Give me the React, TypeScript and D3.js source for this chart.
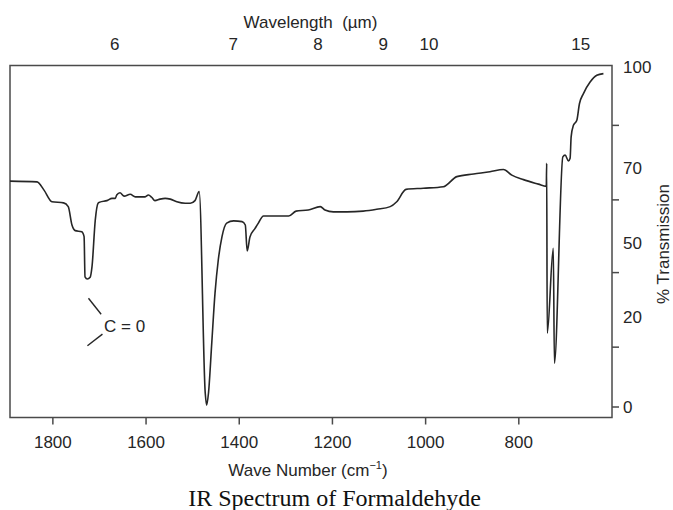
import React from "react";
import * as d3 from "d3";

// Spectrum: wave number (cm^-1) and % transmission
const wavenumbers = [
  1892, 1834, 1819, 1802, 1777, 1767, 1759, 1752, 1738, 1733, 1731, 1726, 1720, 1716, 1709, 1703, 1699,
  1684, 1673, 1666, 1663, 1656, 1647, 1634, 1623, 1613, 1602, 1595, 1588, 1581, 1570, 1559, 1548, 1534,
  1516, 1505, 1495, 1486, 1473, 1470, 1466, 1459, 1452, 1445, 1437, 1427, 1412, 1394, 1387, 1383, 1377,
  1366, 1359, 1348, 1294, 1278, 1252, 1226, 1216, 1198, 1169, 1134, 1105, 1076, 1062, 1042, 1005, 962,
  933, 897, 862, 833, 815, 790, 758, 741, 740.2, 739, 726, 723.6, 705.5, 700.6, 693.5, 689.9, 687.7,
  682.8, 675.5, 669.9, 661.3, 647, 632.6, 618.4,
];
const transmission = [
  66.5, 66.3, 64.1, 61.0, 60.7, 59.7, 54.8, 53.3, 53.0, 51.7, 36.3, 35.4, 36.1, 40.4, 56.1, 60.6, 60.9,
  61.3, 61.9, 61.9, 62.8, 63.4, 62.5, 63.0, 62.3, 62.3, 62.3, 62.8, 62.2, 61.3, 61.7, 61.9, 61.7, 61.0,
  60.6, 60.6, 61.3, 63.7, 3.1, 0.4, 3.1, 14.2, 29.7, 43.1, 51.7, 55.3, 55.9, 55.7, 54.8, 46.8, 51.6,
  53.9, 55.3, 57.2, 57.2, 58.5, 58.8, 59.7, 58.8, 58.3, 58.3, 58.5, 59.0, 59.7, 61.0, 64.3, 64.6, 65.0,
  67.7, 68.4, 69.0, 69.6, 68.1, 66.9, 65.7, 65.1, 71.4, 16.4, 47.9, 9.7, 73.3, 73.8, 72.1, 72.9, 79.2,
  82.6, 84.1, 89.0, 92.0, 95.4, 97.4, 97.9,
];

// Axes
const xDomain = [1892, 600];
const bottomTicks = [1800, 1600, 1400, 1200, 1000, 800];
const topTickLabels = ["6", "7", "8", "9", "10", "15"];
const topTickWavenumbers = [1667, 1413, 1231, 1091, 993, 667];
const yBreaks = [0, 20, 50, 70, 100];
const yLabelValues = [100, 70, 50, 20, 0];
const yTickValues = [82.6, 61.5, 38, 13.3, 0];

// Annotation (C = 0) in data units
const annotText = "C = 0";
const annotTextPos = [1690, 18.1];
const annotLines = [
  [[1723.6, 27.6], [1696.4, 21.1]],
  [[1725.8, 13.6], [1693.6, 16.2]],
];

const W = 673;
const H = 510;
const plot = { left: 10, right: 612, top: 65.5, bottom: 417.5 };
const sans = "'Liberation Sans', Arial, Helvetica, sans-serif";
const serif = "'Liberation Serif', 'Times New Roman', serif";
const textColor = "#262626";
const axisColor = "#4a4a4a";

export default function App() {
  const x = d3.scaleLinear().domain(xDomain).range([plot.left, plot.right]);
  const y = d3
    .scaleLinear()
    .domain(yBreaks)
    .range([407, 317, 243, 168, plot.top + 1]);

  const data = wavenumbers.map((w, i) => [w, transmission[i]] as [number, number]);
  const line = d3
    .line<[number, number]>()
    .x((d) => x(d[0]))
    .y((d) => y(d[1]))
    .curve(d3.curveMonotoneX);

  return (
    <svg
      width={W}
      height={H}
      style={{ position: "fixed", left: 0, top: 0, background: "#fff" }}
    >
      <rect x={0} y={0} width={W} height={H} fill="#fff" />
      {/* frame */}
      <rect
        x={plot.left}
        y={plot.top}
        width={plot.right - plot.left}
        height={plot.bottom - plot.top}
        fill="none"
        stroke={axisColor}
        strokeWidth={1.5}
      />
      {/* bottom ticks */}
      {bottomTicks.map((t) => (
        <g key={t}>
          <line
            x1={x(t)}
            x2={x(t)}
            y1={plot.bottom}
            y2={plot.bottom + 7}
            stroke={axisColor}
            strokeWidth={1.5}
          />
          <text
            x={x(t)}
            y={448}
            textAnchor="middle"
            fontFamily={sans}
            fontSize={17}
            fill={textColor}
          >
            {t}
          </text>
        </g>
      ))}
      <text
        x={308}
        y={476}
        textAnchor="middle"
        fontFamily={sans}
        fontSize={17}
        fill={textColor}
      >
        Wave Number (cm
        <tspan fontSize={11} dy={-7}>
          −1
        </tspan>
        <tspan dy={7}>)</tspan>
      </text>
      <text
        x={334.5}
        y={506}
        textAnchor="middle"
        fontFamily={serif}
        fontSize={24}
        fill="#111"
      >
        IR Spectrum of Formaldehyde
      </text>
      {/* top wavelength labels */}
      {topTickLabels.map((lab, i) => (
        <text
          key={lab}
          x={x(topTickWavenumbers[i])}
          y={50}
          textAnchor="middle"
          fontFamily={sans}
          fontSize={17}
          fill={textColor}
        >
          {lab}
        </text>
      ))}
      <text
        x={310.5}
        y={28}
        textAnchor="middle"
        fontFamily={sans}
        fontSize={17}
        fill={textColor}
        style={{ whiteSpace: "pre" }}
      >
        {"Wavelength  (\u00b5m)"}
      </text>
      {/* right axis */}
      {yTickValues.map((v) => (
        <line
          key={v}
          x1={plot.right}
          x2={plot.right + 7}
          y1={y(v)}
          y2={y(v)}
          stroke={axisColor}
          strokeWidth={1.5}
        />
      ))}
      {yLabelValues.map((v) => (
        <text
          key={v}
          x={623}
          y={y(v)}
          dy="0.36em"
          fontFamily={sans}
          fontSize={17}
          fill={textColor}
        >
          {v}
        </text>
      ))}
      <text
        transform={`translate(669,244) rotate(-90)`}
        textAnchor="middle"
        fontFamily={sans}
        fontSize={17}
        fill={textColor}
      >
        % Transmission
      </text>
      {/* spectrum */}
      <path d={line(data) || ""} fill="none" stroke="#262626" strokeWidth={1.6} strokeLinejoin="round" />
      {/* annotation */}
      {annotLines.map((l, i) => (
        <line
          key={i}
          x1={x(l[0][0])}
          y1={y(l[0][1])}
          x2={x(l[1][0])}
          y2={y(l[1][1])}
          stroke="#262626"
          strokeWidth={1.4}
        />
      ))}
      <text
        x={x(annotTextPos[0])}
        y={y(annotTextPos[1])}
        dy="0.36em"
        fontFamily={sans}
        fontSize={17}
        fill={textColor}
      >
        {annotText}
      </text>
    </svg>
  );
}
